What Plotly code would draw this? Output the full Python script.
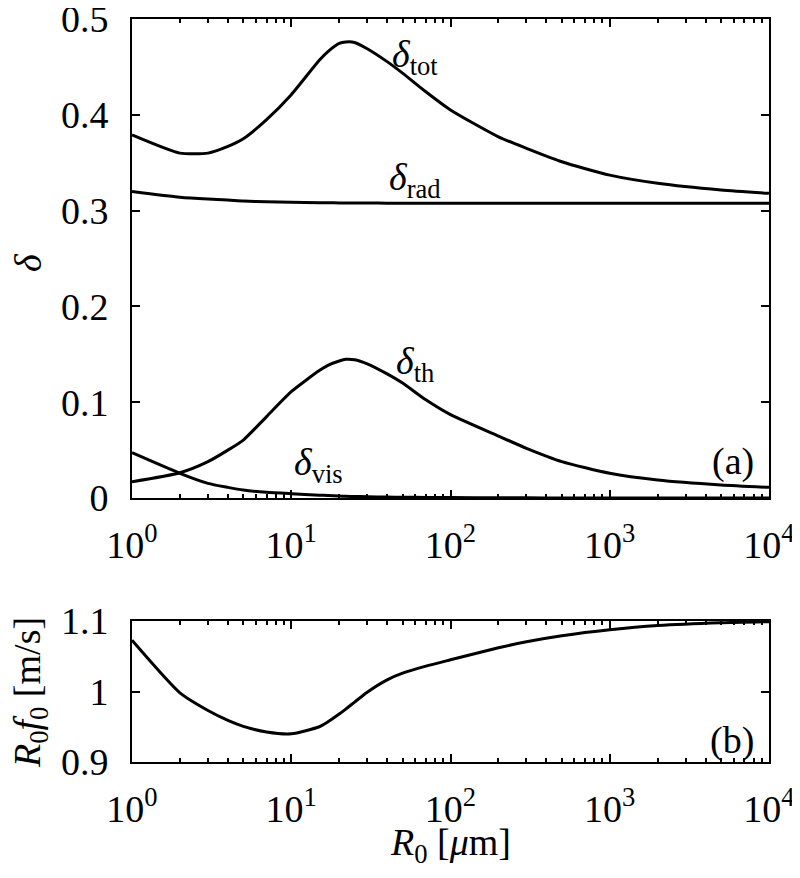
import plotly.graph_objects as go
from plotly.subplots import make_subplots

# ---- data ----
R0 = [1, 2, 3, 4, 5, 7, 10, 15, 17, 20, 22, 25, 30, 40, 50, 70, 100, 200, 300, 500, 1000, 2000, 5000, 10000]
delta_tot = [0.379, 0.360, 0.360, 0.367, 0.375, 0.395, 0.421, 0.457, 0.466, 0.4745, 0.476, 0.4755, 0.469, 0.4555,
             0.4435, 0.424, 0.405, 0.377, 0.365, 0.351, 0.337, 0.3285, 0.3215, 0.318]
delta_rad = [0.320, 0.314, 0.312, 0.311, 0.310, 0.3092, 0.3087, 0.3083, 0.3082, 0.308, 0.308, 0.308, 0.3079, 0.3078,
             0.3077, 0.3077, 0.3076, 0.3076, 0.3076, 0.3076, 0.3076, 0.3076, 0.3076, 0.3076]
delta_th = [0.017, 0.0264, 0.038, 0.050, 0.0605, 0.085, 0.111, 0.133, 0.1385, 0.1430, 0.1448, 0.1443, 0.1400, 0.1295,
            0.1200, 0.1025, 0.087, 0.0647, 0.0519, 0.038, 0.0258, 0.0188, 0.0136, 0.0111]
delta_vis = [0.0473, 0.0258, 0.0153, 0.0111, 0.0083, 0.006, 0.0045, 0.003, 0.0025, 0.002, 0.0018, 0.0016, 0.0013,
             0.001, 0.0008, 0.0006, 0.0004, 0.0002, 0.00015, 0.0001, 0.00005, 0.00003, 0.00001, 0.00001]
R0f0 = [1.0726, 0.998, 0.973, 0.959, 0.9506, 0.9426, 0.940, 0.950, 0.957, 0.968, 0.975, 0.985, 0.999, 1.0165,
        1.026, 1.036, 1.045, 1.062, 1.0705, 1.079, 1.0875, 1.0935, 1.0975, 1.099]

x_tickvals = [1, 10, 100, 1000, 10000]
x_ticktext = ["10<sup>0</sup>", "10<sup>1</sup>", "10<sup>2</sup>", "10<sup>3</sup>", "10<sup>4</sup>"]
x_minor = [m * d for d in [1, 10, 100, 1000] for m in range(2, 10)]

FONT = "Liberation Serif"
FS = 38

fig = make_subplots(rows=2, cols=1, shared_xaxes=False, vertical_spacing=0.0)

line = dict(color="black", width=3, shape="spline", smoothing=0.6)
for ys in [delta_tot, delta_rad, delta_th, delta_vis]:
    fig.add_trace(go.Scatter(x=R0, y=ys, mode="lines", line=line, showlegend=False), row=1, col=1)
fig.add_trace(go.Scatter(x=R0, y=R0f0, mode="lines", line=line, showlegend=False), row=2, col=1)

xaxis_common = dict(
    type="log", range=[0, 4], tickmode="array", tickvals=x_tickvals, ticktext=x_ticktext,
    ticks="inside", ticklen=8, tickwidth=2, tickcolor="black",
    showline=True, linewidth=2, linecolor="black", mirror="ticks",
    showgrid=False, zeroline=False, automargin=False, ticklabeloverflow="allow",
    minor=dict(tickmode="array", tickvals=x_minor, ticks="inside", ticklen=4, tickwidth=1.5,
               tickcolor="black", showgrid=False),
    tickfont=dict(family=FONT, size=FS, color="black"),
    ticklabelstandoff=12,
)
yaxis_common = dict(
    ticks="inside", ticklen=8, tickwidth=2, tickcolor="black",
    showline=True, linewidth=2, linecolor="black", mirror="ticks",
    showgrid=False, zeroline=False, automargin=False, ticklabeloverflow="allow",
    tickfont=dict(family=FONT, size=FS, color="black"),
    ticklabelstandoff=14,
)

# page body has an 8px margin: figure is 792x862 so that the plot lands at the reference pixels
W, H = 792, 862
ML, MT = 124, 11
MR = W - 761
MB = H - 754
plot_h = H - MT - MB
plot_w = W - ML - MR
top_bottom = (754 - 490) / plot_h
bot_top = (754 - 613) / plot_h

fig.update_layout(
    width=W, height=H,
    margin=dict(l=ML, r=MR, t=MT, b=MB, autoexpand=False),
    plot_bgcolor="white", paper_bgcolor="white",
    font=dict(family=FONT, size=FS, color="black"),
    xaxis=dict(**xaxis_common),
    xaxis2=dict(**xaxis_common),
    yaxis=dict(**yaxis_common, range=[0, 0.5], dtick=0.1, domain=[top_bottom, 1]),
    yaxis2=dict(**yaxis_common, range=[0.9, 1.1], dtick=0.1, domain=[0, bot_top]),
)

# axis titles placed as paper annotations (page pixel centres converted to paper fractions)
def px_to_paper(px, py):
    return (px - 8 - ML) / plot_w, (754 - (py - 8)) / plot_h

titles = [
    ("<i>δ</i>", 28, 263, -90),
    ("<i>R</i><sub>0</sub><i>f</i><sub>0</sub> [m/s]", 30, 693, -90),
    ("<i>R</i><sub>0</sub> [<i>μ</i>m]", 450, 845, 0),
]
for txt, px, py, ang in titles:
    xp, yp = px_to_paper(px, py)
    fig.add_annotation(text=txt, x=xp, y=yp, xref="paper", yref="paper", showarrow=False,
                       xanchor="center", yanchor="middle", textangle=ang,
                       font=dict(family=FONT, size=FS, color="black"))

ann = [
    ("<i>δ</i><sub>tot</sub>", 1.774, 0.460, "x", "y"),
    ("<i>δ</i><sub>rad</sub>", 1.774, 0.332, "x", "y"),
    ("<i>δ</i><sub>th</sub>", 1.774, 0.140, "x", "y"),
    ("<i>δ</i><sub>vis</sub>", 1.172, 0.0345, "x", "y"),
    ("(a)", 3.774, 0.0376, "x", "y"),
    ("(b)", 3.768, 0.931, "x2", "y2"),
]
for txt, ax, ay, xr, yr in ann:
    fig.add_annotation(text=txt, x=ax, y=ay, xref=xr, yref=yr, showarrow=False,
                       xanchor="center", yanchor="middle",
                       font=dict(family=FONT, size=FS, color="black"))

fig.write_html("out.html")
